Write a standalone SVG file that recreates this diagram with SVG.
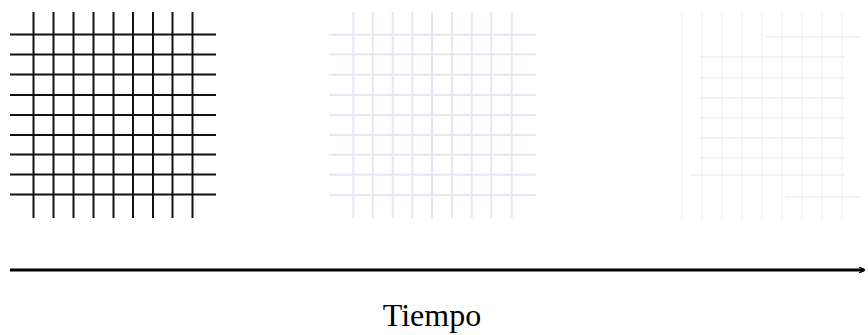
<svg xmlns="http://www.w3.org/2000/svg" width="868" height="335" viewBox="0 0 868 335">
<defs>
<style>
.g1 line{stroke:#111;stroke-width:2}
.g2 line{stroke:#e6e6f4;stroke-width:2}
.g3 line{stroke:#f1f4f8;stroke-width:1.6}
.g3 .h{stroke:#e9f0f6}
.axis{stroke:#000;stroke-width:3}
.lbl{font-family:"Liberation Serif","Times New Roman",serif;font-size:32px;fill:#000}
</style>
<marker id="ah" markerWidth="6" markerHeight="6" refX="5" refY="3" orient="auto" markerUnits="userSpaceOnUse">
<path d="M0,0 L6,3 L0,6" fill="none" stroke="#000" stroke-width="1.5"/>
</marker>
</defs>
<g id="grid1" class="g1">
<line x1="33.5" y1="12" x2="33.5" y2="218"/>
<line x1="53.5" y1="12" x2="53.5" y2="218"/>
<line x1="73.5" y1="12" x2="73.5" y2="218"/>
<line x1="93.5" y1="12" x2="93.5" y2="218"/>
<line x1="113.5" y1="12" x2="113.5" y2="218"/>
<line x1="133" y1="12" x2="133" y2="218"/>
<line x1="153" y1="12" x2="153" y2="218"/>
<line x1="172.5" y1="12" x2="172.5" y2="218"/>
<line x1="192.5" y1="12" x2="192.5" y2="218"/>
<line x1="10" y1="34.5" x2="216" y2="34.5"/>
<line x1="10" y1="54.5" x2="216" y2="54.5"/>
<line x1="10" y1="74.5" x2="216" y2="74.5"/>
<line x1="10" y1="95" x2="216" y2="95"/>
<line x1="10" y1="115" x2="216" y2="115"/>
<line x1="10" y1="135" x2="216" y2="135"/>
<line x1="10" y1="154.5" x2="216" y2="154.5"/>
<line x1="10" y1="174.5" x2="216" y2="174.5"/>
<line x1="10" y1="194.5" x2="216" y2="194.5"/>
</g>
<g id="grid2" class="g2">
<line x1="353.3" y1="12" x2="353.3" y2="218"/>
<line x1="372.7" y1="12" x2="372.7" y2="218"/>
<line x1="392.7" y1="12" x2="392.7" y2="218"/>
<line x1="412.3" y1="12" x2="412.3" y2="218"/>
<line x1="432" y1="12" x2="432" y2="218"/>
<line x1="452" y1="12" x2="452" y2="218"/>
<line x1="471.7" y1="12" x2="471.7" y2="218"/>
<line x1="491.3" y1="12" x2="491.3" y2="218"/>
<line x1="511.7" y1="12" x2="511.7" y2="218"/>
<line x1="329" y1="34.7" x2="536" y2="34.7"/>
<line x1="329" y1="54.3" x2="536" y2="54.3"/>
<line x1="329" y1="74.7" x2="536" y2="74.7"/>
<line x1="329" y1="95" x2="536" y2="95"/>
<line x1="329" y1="115" x2="536" y2="115"/>
<line x1="329" y1="135" x2="536" y2="135"/>
<line x1="329" y1="154.7" x2="536" y2="154.7"/>
<line x1="329" y1="174.7" x2="536" y2="174.7"/>
<line x1="329" y1="195" x2="536" y2="195"/>
</g>
<g id="grid3" class="g3">
<line x1="681.7" y1="12" x2="681.7" y2="220"/>
<line x1="701.7" y1="12" x2="701.7" y2="220"/>
<line x1="721.7" y1="12" x2="721.7" y2="220"/>
<line x1="741.7" y1="12" x2="741.7" y2="220"/>
<line x1="761.7" y1="12" x2="761.7" y2="220"/>
<line x1="781.7" y1="12" x2="781.7" y2="220"/>
<line x1="801.7" y1="12" x2="801.7" y2="220"/>
<line x1="821.7" y1="12" x2="821.7" y2="220"/>
<line x1="841.7" y1="12" x2="841.7" y2="220"/>
<line class="h" x1="765" y1="36.7" x2="860" y2="36.7"/>
<line class="h" x1="700" y1="56.7" x2="845" y2="56.7"/>
<line class="h" x1="700" y1="77.7" x2="845" y2="77.7"/>
<line class="h" x1="700" y1="97.7" x2="845" y2="97.7"/>
<line class="h" x1="700" y1="117.7" x2="845" y2="117.7"/>
<line class="h" x1="700" y1="137.7" x2="845" y2="137.7"/>
<line class="h" x1="700" y1="157.7" x2="845" y2="157.7"/>
<line class="h" x1="690" y1="175" x2="845" y2="175"/>
<line class="h" x1="785" y1="196.7" x2="860" y2="196.7"/>
</g>
<g id="connectors">
<line class="axis" x1="10" y1="270" x2="864" y2="270" marker-end="url(#ah)"/>
</g>
<g id="label">
<text class="lbl" x="432" y="326" text-anchor="middle">Tiempo</text>
</g>
</svg>
